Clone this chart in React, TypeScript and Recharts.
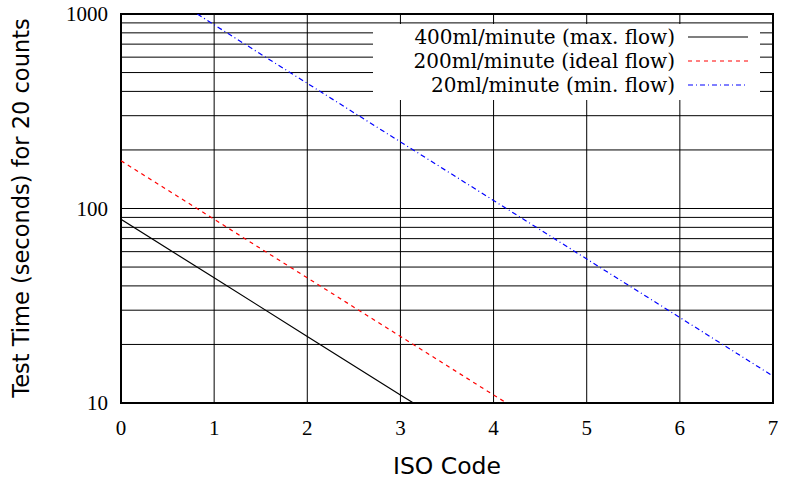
import {
  CartesianGrid,
  Label,
  Legend,
  Line,
  LineChart,
  ReferenceArea,
  XAxis,
  YAxis,
} from 'recharts';

// ISO code vs test time (time halves per code step)
const isoCodes400 = [0, 1, 2, 3, 3.14];
const times400 = [88, 44, 22, 11, 10];
const isoCodes200 = [0, 1, 2, 3, 4, 4.14];
const times200 = [176, 88, 44, 22, 11, 10];
const isoCodes20 = [0.82, 1, 2, 3, 4, 5, 6, 7];
const times20 = [1000, 880, 440, 220, 110, 55, 27.5, 13.75];

const xTicks = [0, 1, 2, 3, 4, 5, 6, 7];
const yTicks = [
  10, 20, 30, 40, 50, 60, 70, 80, 90, 100, 200, 300, 400, 500, 600, 700, 800,
  900, 1000,
];
const yLabels = [10, 100, 1000];

const seriesNames = [
  '400ml/minute (max. flow)',
  '200ml/minute (ideal flow)',
  '20ml/minute (min. flow)',
];

const toPoints = (xs: number[], ys: number[]) =>
  xs.map((iso, i) => ({ iso, time: ys[i] }));

const series = [
  { name: seriesNames[0], data: toPoints(isoCodes400, times400), color: '#000000', dash: undefined },
  { name: seriesNames[1], data: toPoints(isoCodes200, times200), color: '#ff0000', dash: '4 4' },
  { name: seriesNames[2], data: toPoints(isoCodes20, times20), color: '#0000ff', dash: '5 3 1 3' },
];

const serif = '"Liberation Serif", "DejaVu Serif", serif';
const legendSerif = '"DejaVu Serif", serif';
const sans = '"DejaVu Sans", sans-serif';

const LegendBox = () => (
  <svg width={387} height={76} style={{ display: 'block' }}>
    {series.map((s, i) => (
      <g key={s.name}>
        <text
          x={302}
          y={13 + i * 24}
          textAnchor="end"
          dominantBaseline="central"
          fontFamily={legendSerif}
          fontSize={20}
          fill="#000"
        >
          {s.name}
        </text>
        <line
          x1={315}
          x2={375}
          y1={13 + i * 24}
          y2={13 + i * 24}
          stroke={s.color}
          strokeWidth={1.2}
          strokeDasharray={s.dash}
        />
      </g>
    ))}
  </svg>
);

export default function App() {
  return (
    <div style={{ position: 'absolute', left: 0, top: 0, background: '#fff' }}>
      <LineChart
        width={787}
        height={482}
        margin={{ top: 14, right: 14, left: 0, bottom: 0 }}
      >
        <CartesianGrid stroke="#000" strokeWidth={1} />
        <XAxis
          dataKey="iso"
          type="number"
          domain={[0, 7]}
          ticks={xTicks}
          height={79}
          axisLine={false}
          tickLine={false}
          tickSize={0}
          tickMargin={17}
          allowDataOverflow
          tick={{ fontFamily: serif, fontSize: 21, fill: '#000' }}
        >
          <Label
            content={() => (
              <text
                x={447}
                y={466}
                textAnchor="middle"
                dominantBaseline="central"
                fontFamily={sans}
                fontSize={23.5}
                fill="#000"
              >
                ISO Code
              </text>
            )}
          />
        </XAxis>
        <YAxis
          dataKey="time"
          type="number"
          scale="log"
          domain={[10, 1000]}
          ticks={yTicks}
          interval={0}
          width={121}
          axisLine={false}
          tickLine={false}
          tickSize={0}
          tickMargin={13}
          allowDataOverflow
          tickFormatter={(v: number) => (yLabels.includes(v) ? String(v) : '')}
          tick={{ fontFamily: serif, fontSize: 21, fill: '#000' }}
        >
          <Label
            content={() => (
              <text
                x={21}
                y={208}
                transform="rotate(-90, 21, 208)"
                textAnchor="middle"
                dominantBaseline="central"
                fontFamily={sans}
                fontSize={22.5}
                fill="#000"
              >
                Test Time (seconds) for 20 counts
              </text>
            )}
          />
        </YAxis>
        {series.map((s) => (
          <Line
            key={s.name}
            data={s.data}
            dataKey="time"
            name={s.name}
            type="linear"
            stroke={s.color}
            strokeWidth={1.2}
            strokeDasharray={s.dash}
            dot={false}
            activeDot={false}
            isAnimationActive={false}
          />
        ))}
        <ReferenceArea
          x1={0}
          x2={7}
          y1={10}
          y2={1000}
          fill="none"
          stroke="#000"
          strokeWidth={2}
        />
        <Legend
          layout="horizontal"
          verticalAlign="middle"
          align="center"
          wrapperStyle={{ left: 373, top: 24, width: 387, height: 76, background: '#fff' }}
          content={() => <LegendBox />}
        />
      </LineChart>
    </div>
  );
}
